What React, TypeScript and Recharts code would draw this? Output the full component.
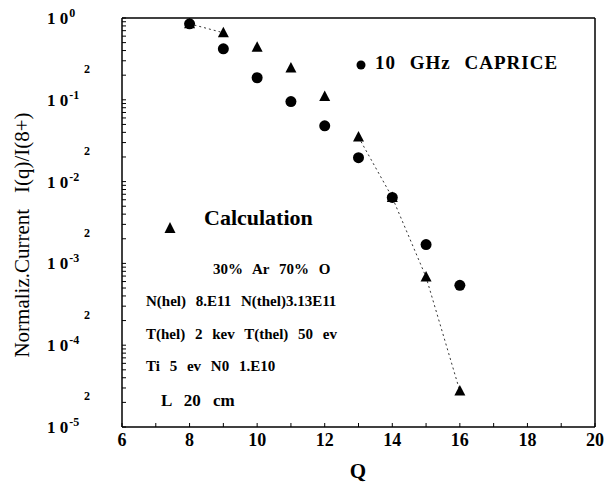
import { ComposedChart, Line, XAxis, YAxis } from "recharts";

const charges = [8, 9, 10, 11, 12, 13, 14, 15, 16];
// calculated (triangles) and measured 10 GHz CAPRICE (circles)
const calculado = [0.85, 0.66, 0.44, 0.245, 0.11, 0.035, 0.0064, 6.8e-4, 2.75e-5];
const medido = [0.85, 0.42, 0.186, 0.095, 0.048, 0.0196, 0.0064, 1.7e-3, 5.4e-4];
// dotted guide drawn only where it shows in the scan
const guia = [0.85, 0.66, null, null, null, 0.035, 0.0064, 6.8e-4, 2.75e-5];

const xTicks = [6, 7, 8, 9, 10, 11, 12, 13, 14, 15, 16, 17, 18, 19, 20];
const decadas = [-5, -4, -3, -2, -1, 0];
const yTicks = decadas.flatMap((e) =>
  e === 0 ? [1] : [1, 2, 3, 4, 5, 6, 7, 8, 9].map((m) => m * Math.pow(10, e))
);

const FONT = "'Liberation Serif', 'DejaVu Serif', serif";

const dados = charges.map((q, i) => ({
  q,
  calc: calculado[i],
  meas: medido[i],
  guia: guia[i],
}));

const Triangulo = (p: any) =>
  p.cx == null ? null : (
    <polygon points={`${p.cx},${p.cy - 6} ${p.cx - 5.5},${p.cy + 4.5} ${p.cx + 5.5},${p.cy + 4.5}`} fill="#000" />
  );

const Bola = (p: any) => (p.cx == null ? null : <circle cx={p.cx} cy={p.cy} r={5.5} fill="#000" />);

const TickY = (props: any) => {
  const v = props.payload.value;
  const e = Math.floor(Math.log10(v) + 1e-9);
  const m = Math.round(v / Math.pow(10, e));
  if (m === 1) {
    return (
      <text x={47} y={props.y + 6} fontFamily={FONT} fontSize={17} fontWeight="bold" fill="#000">
        1 0
        <tspan dx={1} dy={-7} fontSize={12}>
          {String(e)}
        </tspan>
      </text>
    );
  }
  if (m === 2) {
    return (
      <text x={84} y={props.y - 2} fontFamily={FONT} fontSize={12} fontWeight="bold" fill="#000">
        2
      </text>
    );
  }
  return null;
};

const TickX = (props: any) =>
  props.payload.value % 2 ? null : (
    <text x={props.x} y={446} textAnchor="middle" fontFamily={FONT} fontSize={18} fontWeight="bold" fill="#000">
      {props.payload.value}
    </text>
  );

const eixo = { stroke: "#000", strokeWidth: 1.5 };
const marca = { stroke: "#000", strokeWidth: 1 };

function Grafico() {
  return (
    <div style={{ position: "relative", width: 608, height: 491, background: "#fff" }}>
      <ComposedChart width={608} height={491} data={dados} margin={{ top: 17, right: 12, left: 62, bottom: 34 }}>
        <XAxis xAxisId="b" dataKey="q" type="number" domain={[6, 20]} ticks={xTicks} interval={0} tickSize={-4}
          tick={<TickX />} height={30} axisLine={eixo} tickLine={marca} />
        <XAxis xAxisId="t" orientation="top" dataKey="q" type="number" domain={[6, 20]} ticks={xTicks} interval={0}
          tickSize={-4} tick={false} height={1} axisLine={eixo} tickLine={marca} />
        <YAxis yAxisId="l" scale="log" type="number" domain={[1e-5, 1]} ticks={yTicks} interval={0} allowDataOverflow
          tickSize={-4} tick={<TickY />} width={60} axisLine={eixo} tickLine={marca} />
        <YAxis yAxisId="r" orientation="right" scale="log" type="number" domain={[1e-5, 1]} ticks={yTicks} interval={0}
          allowDataOverflow tickSize={-4} tick={false} width={1} axisLine={eixo} tickLine={marca} />
        <Line xAxisId="b" yAxisId="l" dataKey="guia" stroke="#333" strokeDasharray="2 3" dot={false}
          activeDot={false} connectNulls={false} isAnimationActive={false} />
        <Line xAxisId="b" yAxisId="l" dataKey="meas" stroke="none" dot={<Bola />} activeDot={false}
          isAnimationActive={false} />
        <Line xAxisId="b" yAxisId="l" dataKey="calc" stroke="none" dot={<Triangulo />} activeDot={false}
          isAnimationActive={false} />
      </ComposedChart>
      <svg width={608} height={491} style={{ position: "absolute", left: 0, top: 0, pointerEvents: "none" }}>
        <text transform="translate(29,235) rotate(-90)" textAnchor="middle" fontFamily={FONT} fontSize={21} fill="#000">
          Normaliz.Current{"\u00a0\u00a0\u00a0"}I(q)/I(8+)
        </text>
        <text x={358} y={478} textAnchor="middle" fontFamily={FONT} fontSize={21} fontWeight="bold" fill="#000">
          Q
        </text>
        <circle cx={361} cy={65} r={4.5} fill="#000" />
        <text x={375} y={69} fontFamily={FONT} fontSize={19} fontWeight="bold" fill="#000" wordSpacing={8} letterSpacing={1}>
          10 GHz CAPRICE
        </text>
        <polygon points="170,222 164.5,233 175.5,233" fill="#000" />
        <text x={204} y={225} fontFamily={FONT} fontSize={22} fontWeight="bold" fill="#000">
          Calculation
        </text>
        <text x={213} y={274} fontFamily={FONT} fontSize={15} fontWeight="bold" fill="#000" wordSpacing={6}>
          30% Ar 70% O
        </text>
        <text x={146} y={306} fontFamily={FONT} fontSize={15} fontWeight="bold" fill="#000" wordSpacing={6}>
          N(hel) 8.E11 N(thel)3.13E11
        </text>
        <text x={146} y={339} fontFamily={FONT} fontSize={15} fontWeight="bold" fill="#000" wordSpacing={6}>
          T(hel) 2 kev T(thel) 50 ev
        </text>
        <text x={146} y={371} fontFamily={FONT} fontSize={15} fontWeight="bold" fill="#000" wordSpacing={6}>
          Ti 5 ev N0 1.E10
        </text>
        <text x={161} y={406} fontFamily={FONT} fontSize={17} fontWeight="bold" fill="#000" wordSpacing={8}>
          L 20 cm
        </text>
      </svg>
    </div>
  );
}

export default function App() {
  return (
    <div style={{ position: "absolute", left: 0, top: 0 }}>
      <Grafico />
    </div>
  );
}
